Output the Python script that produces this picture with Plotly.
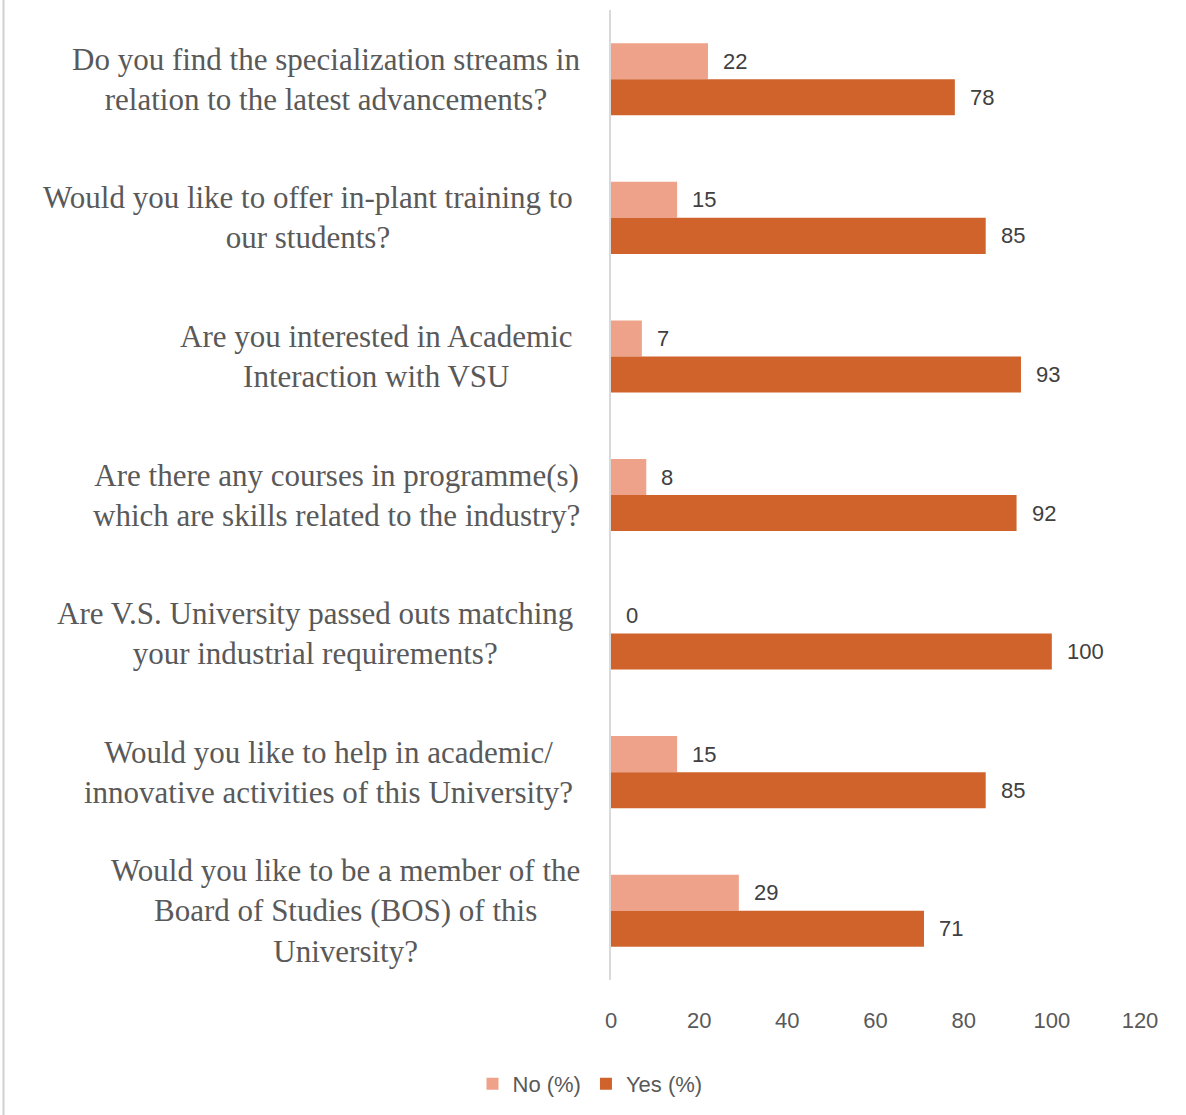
import plotly.graph_objects as go

# Survey questions (top to bottom) and response shares
questions = [
    "Do you find the specialization streams in<br>relation to the latest advancements?",
    "Would you like to offer in-plant training to<br>our students?",
    "Are you interested in Academic<br>Interaction with VSU",
    "Are there any courses in programme(s)<br>which are skills related to the industry?",
    "Are V.S. University passed outs matching<br>your industrial requirements?",
    "Would you like to help in academic/<br>innovative activities of this University?",
    "Would you like to be a member of the<br>Board of Studies (BOS) of this<br>University?",
]
no_pct = [22, 15, 7, 8, 0, 15, 29]
yes_pct = [78, 85, 93, 92, 100, 85, 71]
x_ticks = [0, 20, 40, 60, 80, 100, 120]

# right edge (px offset from the value axis) of each wrapped question block
label_shift = [-29, -36, -36, -29, -36, -36, -29]

NO_COLOR = "#EFA28A"
YES_COLOR = "#D0632C"
TEXT = "#595959"
SANS = "Liberation Sans, Arial, sans-serif"
SERIF = "Liberation Serif, Times New Roman, serif"

cat_ids = [f"q{i}" for i in range(len(questions))]

fig = go.Figure()
fig.add_trace(go.Bar(y=cat_ids, x=no_pct, orientation="h", name="No (%)",
                     marker=dict(color=NO_COLOR, line=dict(width=0))))
fig.add_trace(go.Bar(y=cat_ids, x=yes_pct, orientation="h", name="Yes (%)",
                     marker=dict(color=YES_COLOR, line=dict(width=0))))

annotations = []
for cid, q, shift in zip(cat_ids, questions, label_shift):
    annotations.append(dict(
        x=0, xref="paper", y=cid, yref="y", xanchor="right", yanchor="middle",
        xshift=shift, text=q, align="center", showarrow=False,
        font=dict(family=SERIF, size=31, color=TEXT)))
# value labels beside each bar
for cid, n, y in zip(cat_ids, no_pct, yes_pct):
    annotations.append(dict(x=n, y=cid, xref="x", yref="y", xanchor="left",
                            yanchor="middle", xshift=13, yshift=18, text=str(n),
                            showarrow=False, font=dict(family=SANS, size=22, color="#404040")))
    annotations.append(dict(x=y, y=cid, xref="x", yref="y", xanchor="left",
                            yanchor="middle", xshift=13, yshift=-18, text=str(y),
                            showarrow=False, font=dict(family=SANS, size=22, color="#404040")))

left, right, top, bottom = 611, 46, 10, 135
plot_w = 1186 - left - right
plot_h = 1115 - top - bottom

fig.update_layout(
    width=1186, height=1115,
    margin=dict(l=left, r=right, t=top, b=bottom, pad=0),
    paper_bgcolor="white", plot_bgcolor="white",
    barmode="group", bargap=0.48, bargroupgap=0,
    font=dict(family=SANS, size=22, color=TEXT),
    annotations=annotations,
    showlegend=True,
    legend=dict(orientation="h", x=(590 - left) / plot_w, xanchor="center",
                y=(1115 - bottom - 1084) / plot_h, yanchor="middle",
                font=dict(family=SANS, size=22, color=TEXT), traceorder="normal"),
    shapes=[dict(type="line", xref="paper", yref="paper",
                 x0=(3.5 - left) / plot_w, x1=(3.5 - left) / plot_w,
                 y0=(top + plot_h - 1115) / plot_h, y1=(top + plot_h) / plot_h,
                 line=dict(color="#D0D0D0", width=2))],
)
fig.update_xaxes(range=[0, 120], tickvals=x_ticks, showgrid=False, zeroline=False,
                 showline=False, ticks="", ticklabelstandoff=25,
                 tickfont=dict(family=SANS, size=22, color=TEXT))
fig.update_yaxes(autorange="reversed", showticklabels=False, ticks="",
                 showline=True, linecolor="#D9D9D9", linewidth=1.5, showgrid=False)

fig.write_html("out.html")
